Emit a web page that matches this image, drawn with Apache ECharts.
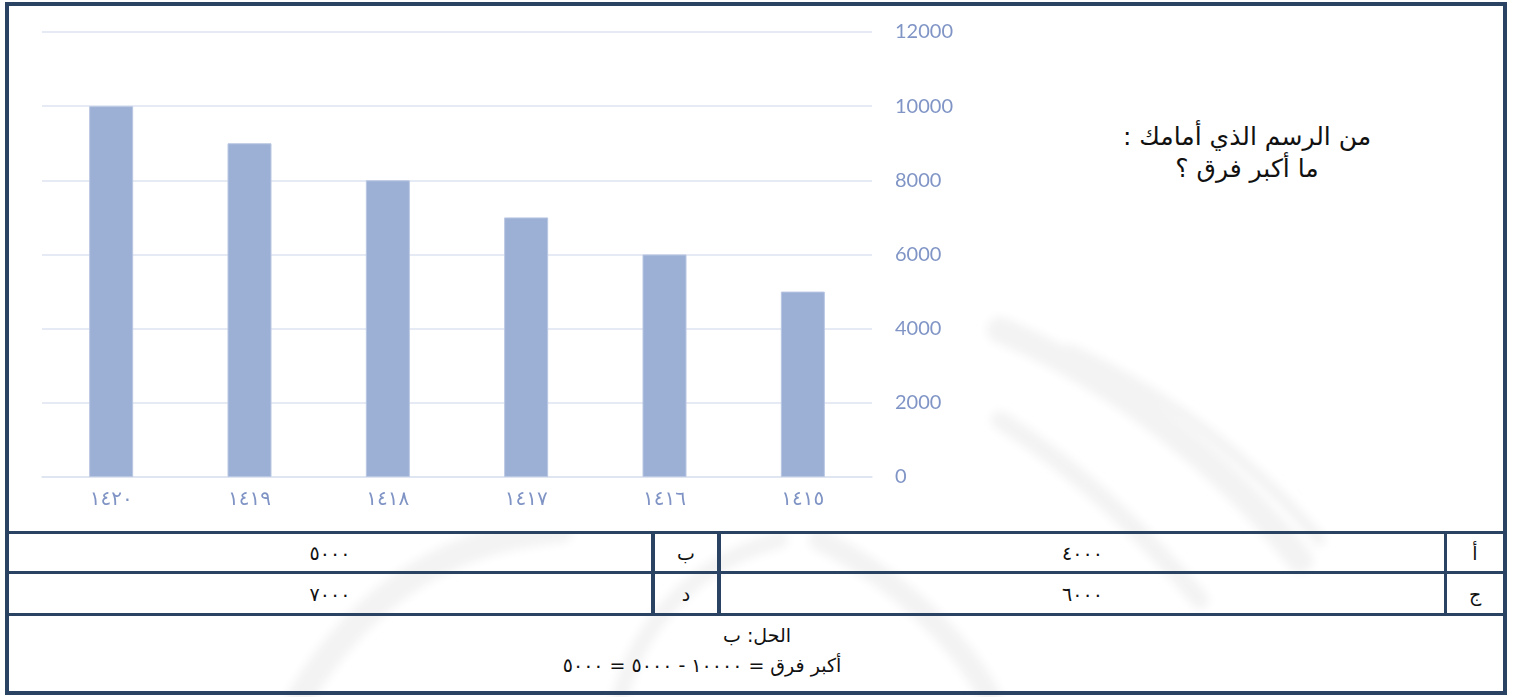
<!DOCTYPE html>
<html lang="ar">
<head>
<meta charset="utf-8">
<title>أكبر فرق</title>
<script src="https://cdn.jsdelivr.net/npm/echarts@6/dist/echarts.min.js"></script>
<style>
  html, body { margin: 0; padding: 0; background: #ffffff; }
  body { width: 1515px; height: 697px; position: relative; overflow: hidden;
         font-family: "DejaVu Sans", sans-serif; color: #111; }
  #wm { position: absolute; left: 0; top: 0; width: 1515px; height: 697px; }
  #frame { position: absolute; left: 5px; top: 2px; width: 1502px; height: 693px;
           box-sizing: border-box; border: 4px solid #2b4363; }
  #chart { position: absolute; left: 9px; top: 6px; width: 959px; height: 525px; background: #fff; }
  .rule { position: absolute; background: #2b4363; }
  .cell { position: absolute; display: flex; align-items: center; justify-content: center;
          direction: rtl; font-size: 19px; white-space: nowrap; }
  .num { letter-spacing: -2px; }
  #question { position: absolute; left: 1047px; top: 121px; width: 400px; text-align: center;
              direction: rtl; font-size: 25px; line-height: 32px; }
  .line { position: absolute; text-align: center; direction: rtl; font-size: 19px;
          line-height: 30px; white-space: nowrap; }
</style>
</head>
<body>
<!-- faint background emblem -->
<svg id="wm" viewBox="0 0 1515 697" xmlns="http://www.w3.org/2000/svg">
  <defs>
    <filter id="soft" x="-10%" y="-10%" width="120%" height="120%">
      <feGaussianBlur stdDeviation="5"/>
    </filter>
  </defs>
  <g fill="none" stroke="#f3f3f3" stroke-linecap="round" filter="url(#soft)">
    <path d="M1000 330 C1120 380 1230 470 1300 560" stroke-width="26"/>
    <path d="M1070 350 C1180 400 1260 470 1320 540" stroke-width="12"/>
    <path d="M1000 420 C1080 470 1150 540 1200 600" stroke-width="18"/>
    <path d="M300 697 C360 600 440 540 560 530" stroke-width="26"/>
    <path d="M820 540 C900 580 960 640 990 697" stroke-width="22"/>
    <path d="M620 697 C640 620 700 560 780 540" stroke-width="16"/>
  </g>
</svg>
<div id="frame"></div>
<div id="chart"></div>

<div id="question">من الرسم الذي أمامك :<br>ما أكبر فرق ؟</div>

<!-- answer table rules -->
<div class="rule" style="left:5px;top:531px;width:1502px;height:3px"></div>
<div class="rule" style="left:5px;top:571px;width:1502px;height:3px"></div>
<div class="rule" style="left:5px;top:613px;width:1502px;height:3px"></div>
<div class="rule" style="left:651px;top:531px;width:4px;height:85px"></div>
<div class="rule" style="left:717px;top:531px;width:4px;height:85px"></div>
<div class="rule" style="left:1444px;top:531px;width:3px;height:85px"></div>

<div id="cells"></div>
<div class="line" id="sol1" style="left:557px;top:620px;width:400px"></div>
<div class="line" id="sol2" style="left:402px;top:650px;width:600px"></div>

<script>
// Hijri years and counts shown by the bars
const years  = ['١٤١٥', '١٤١٦', '١٤١٧', '١٤١٨', '١٤١٩', '١٤٢٠'];
const counts = [5000, 6000, 7000, 8000, 9000, 10000];

// value axis ticks
const yMin = 0;
const yMax = 12000;
const yStep = 2000;

// multiple-choice answers: letter and value
const choiceLetters = ['أ', 'ب', 'ج', 'د'];
const choiceValues  = ['٤٠٠٠', '٥٠٠٠', '٦٠٠٠', '٧٠٠٠'];
const answerLetter  = 'ب';

const toArabicDigits = n => String(n).replace(/\d/g, d => '٠١٢٣٤٥٦٧٨٩'[d]);

const chart = echarts.init(document.getElementById('chart'), null, { renderer: 'canvas' });
chart.setOption({
  animation: false,
  backgroundColor: '#ffffff',
  grid: { left: 33, right: 96, top: 26, bottom: 54, containLabel: false },
  xAxis: {
    type: 'category',
    data: years,
    inverse: true,
    axisLine: { show: true, lineStyle: { color: '#dde3f0', width: 1.5 } },
    axisTick: { show: false },
    axisLabel: { color: '#7f93c4', fontFamily: 'DejaVu Sans', fontSize: 20, margin: 13 }
  },
  yAxis: {
    type: 'value',
    position: 'right',
    min: yMin, max: yMax, interval: yStep,
    axisLine: { show: false },
    axisTick: { show: false },
    splitLine: { lineStyle: { color: '#dde3f0', width: 1.5 } },
    axisLabel: {
      color: '#8095c6', fontFamily: 'Lato', fontSize: 20, margin: 23, align: 'left',
      padding: [0, 0, 4, 0],
      formatter: v => String(v)
    }
  },
  series: [{
    type: 'bar',
    data: counts,
    barWidth: 44,
    itemStyle: { color: '#9cafd4', borderColor: '#b9c7e2', borderWidth: 1 }
  }]
});

// answer cells: rows of [letter, value] pairs laid out right to left
const rowTops = [534, 574];
const rowH = [37, 39];
const cellsEl = document.getElementById('cells');
function addCell(text, left, width, top, height, cls) {
  const d = document.createElement('div');
  d.className = 'cell';
  d.style.left = left + 'px'; d.style.width = width + 'px';
  d.style.top = top + 'px'; d.style.height = height + 'px';
  const s = document.createElement('span');
  if (cls) s.className = cls;
  s.textContent = text;
  d.appendChild(s);
  cellsEl.appendChild(d);
}
for (let r = 0; r < 2; r++) {
  const i = r * 2;
  addCell(choiceLetters[i],     1447, 56,  rowTops[r], rowH[r]);
  addCell(choiceValues[i],      721,  723, rowTops[r], rowH[r], 'num');
  addCell(choiceLetters[i + 1], 655,  62,  rowTops[r], rowH[r]);
  addCell(choiceValues[i + 1],  9,    642, rowTops[r], rowH[r], 'num');
}

// worked solution: largest minus smallest bar
const hi = Math.max(...counts), lo = Math.min(...counts);
const n = v => '<span class="num">' + toArabicDigits(v) + '</span>';
document.getElementById('sol1').textContent = 'الحل: ' + answerLetter;
document.getElementById('sol2').innerHTML =
  'أكبر فرق = ' + n(hi) + ' - ' + n(lo) + ' = ' + n(hi - lo);
</script>
</body>
</html>
